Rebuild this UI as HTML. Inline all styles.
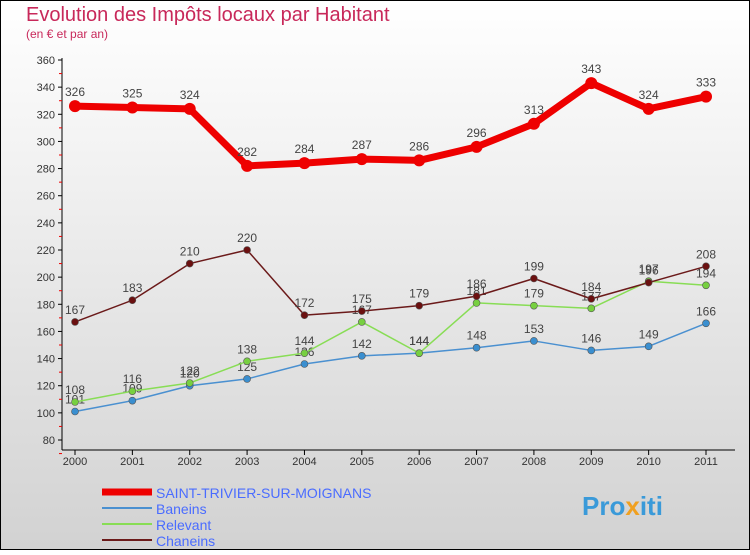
<!DOCTYPE html>
<html><head><meta charset="utf-8"><style>
html,body{margin:0;padding:0}
body{width:750px;height:550px;overflow:hidden;font-family:"Liberation Sans",sans-serif}
</style></head><body>
<svg id="c" width="750" height="550" xmlns="http://www.w3.org/2000/svg">
<defs><linearGradient id="bg" x1="0" y1="0" x2="0" y2="1"><stop offset="0" stop-color="#ffffff"/><stop offset="1" stop-color="#d2d2d2"/></linearGradient></defs>
<rect x="0.5" y="0.5" width="749" height="549" fill="url(#bg)" stroke="#000"/>
<text x="26" y="21" font-size="20" fill="#c8285a">Evolution des Impôts locaux par Habitant</text>
<text x="26" y="38" font-size="12" fill="#c8285a">(en € et par an)</text>
<g id="axes"></g><g id="series"></g>
<g>
<line x1="102" y1="492" x2="152" y2="492" stroke="#ee0000" stroke-width="7"/>
<text x="156" y="498" font-size="14" fill="#4a6cff">SAINT-TRIVIER-SUR-MOIGNANS</text>
<line x1="102" y1="508" x2="152" y2="508" stroke="#4a90d0" stroke-width="2"/>
<text x="156" y="514" font-size="14" fill="#4a6cff">Baneins</text>
<line x1="102" y1="524" x2="152" y2="524" stroke="#88dd55" stroke-width="2"/>
<text x="156" y="530" font-size="14" fill="#4a6cff">Relevant</text>
<line x1="102" y1="540" x2="152" y2="540" stroke="#6b1a1a" stroke-width="2"/>
<text x="156" y="546" font-size="14" fill="#4a6cff">Chaneins</text>
</g>
<text x="582" y="515" font-size="26" font-weight="bold" fill="#3a9ad9">Pro<tspan fill="#f0a020">x</tspan>iti</text>
</svg>
<script>
const years=["2000","2001","2002","2003","2004","2005","2006","2007","2008","2009","2010","2011"];
const yTicks=[80,100,120,140,160,180,200,220,240,260,280,300,320,340,360];
const saint=[326,325,324,282,284,287,286,296,313,343,324,333];
const baneins=[101,109,120,125,136,142,144,148,153,146,149,166];
const relevant=[108,116,122,138,144,167,144,181,179,177,197,194];
const chaneins=[167,183,210,220,172,175,179,186,199,184,196,208];
const NS="http://www.w3.org/2000/svg";
const X=i=>75+i*(706-75)/(years.length-1);
const Y=v=>440-(v-80)*(380/280);
function mk(t,a,p){const e=document.createElementNS(NS,t);for(const k in a)e.setAttribute(k,a[k]);p.appendChild(e);return e;}
const ax=document.getElementById('axes');
const yl=mk('line',{x1:62,y1:58,x2:62,y2:450,stroke:'#000'},ax);


const xl=mk('line',{x1:62,y1:450,x2:735,y2:450,stroke:'#000'},ax);


yTicks.forEach((v,i)=>{
 mk('line',{x1:58,y1:Y(v),x2:62,y2:Y(v),stroke:'#000'},ax);
 if(i<yTicks.length-1) mk('line',{x1:59,y1:Y(v+10),x2:62,y2:Y(v+10),stroke:'#e00'},ax);
 const t=mk('text',{x:55,y:Y(v)+4,'text-anchor':'end','font-size':11,fill:'#333'},ax);t.textContent=v;
 
 
});
mk('line',{x1:59,y1:Y(70),x2:62,y2:Y(70),stroke:'#e00'},ax);
years.forEach((y,i)=>{
 mk('line',{x1:X(i),y1:450,x2:X(i),y2:455,stroke:'#000'},ax);
 const t=mk('text',{x:X(i),y:465,'text-anchor':'middle','font-size':11,fill:'#333'},ax);t.textContent=y;
 
 
});
const sg=document.getElementById('series');
function draw(data,name,col,w,r,dot){
 const g=mk('g',{},sg);
 
 
 const p=mk('polyline',{points:data.map((v,i)=>X(i)+','+Y(v)).join(' '),fill:'none',stroke:col,'stroke-width':w,'stroke-linejoin':'round'},g);
 
 
 data.forEach((v,i)=>{
  const c=mk('circle',{cx:X(i),cy:Y(v),r:r,fill:dot,stroke:w>3?'none':'#555','stroke-width':0.6},g);
  
  
  const t=mk('text',{x:X(i),y:Y(v)-(w>3?10:8),'text-anchor':'middle','font-size':12,fill:'#444'},g);t.textContent=v;
  
  
 });
}
draw(baneins,'baneins','#4a90d0',1.5,3.5,'#3a8fd0');
draw(relevant,'relevant','#88dd55',1.5,3.5,'#77d040');
draw(chaneins,'chaneins','#6b1a1a',1.5,3.5,'#6b1010');
draw(saint,'saint-trivier','#ee0000',7,6,'#ee0000');
</script>
</body></html>
